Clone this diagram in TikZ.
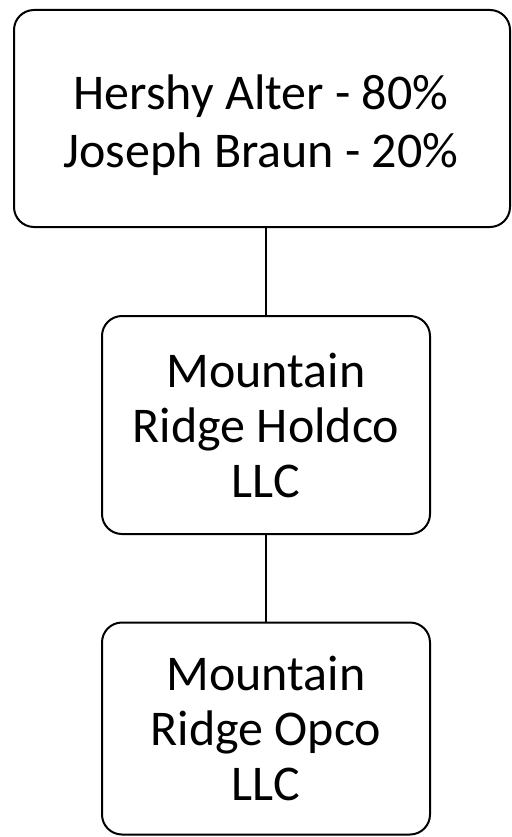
\documentclass[tikz,border=0pt]{standalone}
\usepackage{fontspec}
\setmainfont{Carlito}
\begin{document}
\begin{tikzpicture}[x=1pt,y=-1pt,
  orgbox/.style={draw=black, line width=2pt, rounded corners=20pt, align=center, inner sep=0pt},
  link/.style={draw=black, line width=2pt}]
\useasboundingbox (0,0) rectangle (511,837);
\node[orgbox, minimum width=496pt, minimum height=217pt] (own) at (262,118.5) {};
\node[font=\fontsize{50}{58}\selectfont, align=center, inner sep=0pt] (owntext) at (261,125)
  {Hershy Alter - 80\%\\Joseph Braun - 20\%};
\node[orgbox, minimum width=328pt, minimum height=218pt,
      font=\fontsize{50}{55}\selectfont] (hold) at (266,425)
  {Mountain\\Ridge Holdco\\LLC};
\node[orgbox, minimum width=328pt, minimum height=212pt,
      font=\fontsize{50}{55}\selectfont] (opco) at (266,728.5)
  {Mountain\\Ridge Opco\\LLC};
\draw[link] (hold.north |- own.south) -- (hold.north);
\draw[link] (hold.south) -- (opco.north);
\end{tikzpicture}
\end{document}
